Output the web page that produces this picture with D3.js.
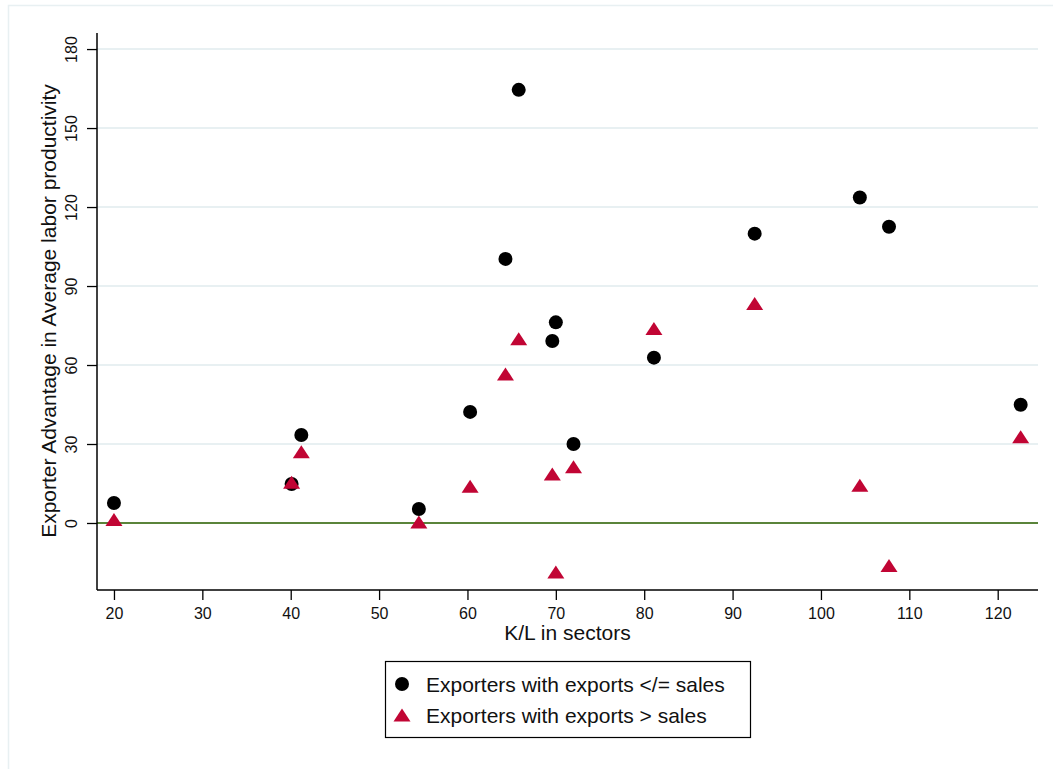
<!DOCTYPE html>
<html>
<head>
<meta charset="utf-8">
<script src="https://cdn.jsdelivr.net/npm/d3@7"></script>
<style>
  html, body { margin: 0; padding: 0; background: #fff; }
  svg { display: block; font-family: "Liberation Sans", Arial, sans-serif; }
</style>
</head>
<body>
<svg id="chart" width="1053" height="769"></svg>
<script>
// ---- data ----
const klCircle = [20.0, 40.1, 41.2, 54.5, 60.3, 64.3, 65.8, 70.0, 69.6, 72.0, 81.1, 92.5, 104.4, 107.7, 122.6];
const advCircle = [7.6, 14.8, 33.4, 5.3, 42.2, 100.3, 164.5, 76.2, 69.1, 30.0, 62.8, 109.9, 123.6, 112.5, 44.9];
const klTriangle = [20.0, 40.1, 41.2, 54.5, 60.3, 64.3, 65.8, 69.6, 72.0, 70.0, 81.1, 92.5, 104.4, 107.7, 122.6];
const advTriangle = [1.3, 15.5, 27.1, 0.4, 14.0, 56.6, 70.0, 18.6, 21.4, -18.6, 73.9, 83.4, 14.3, -16.1, 32.8];
const xTicks = [20, 30, 40, 50, 60, 70, 80, 90, 100, 110, 120];
const yTicks = [0, 30, 60, 90, 120, 150, 180];
const seriesLabels = ["Exporters with exports </= sales", "Exporters with exports > sales"];
const xTitle = "K/L in sectors";
const yTitle = "Exporter Advantage in Average labor productivity";

const svg = d3.select("#chart");
const W = 1053, H = 769;
const gridColor = "#e8f0f2";
const red = "#c10534";
const FONT = "Liberation Sans, Arial, sans-serif";

// outer frame
svg.append("rect").attr("x", 8.5).attr("y", 5.5).attr("width", W + 10).attr("height", H + 10)
  .attr("fill", "none").attr("stroke", gridColor).attr("stroke-width", 1.5);

const plot = { left: 97, right: 1038, top: 33, bottom: 590 };
const x = d3.scaleLinear().domain([18.08, 124.56]).range([plot.left, plot.right]);
const y = d3.scaleLinear().domain([-25.45, 186.1]).range([plot.bottom, plot.top]);

// gridlines
svg.append("g").selectAll("line").data(yTicks.filter(d => d !== 0)).join("line")
  .attr("x1", plot.left).attr("x2", plot.right)
  .attr("y1", d => y(d)).attr("y2", d => y(d))
  .attr("stroke", gridColor).attr("stroke-width", 2);

// zero line
svg.append("line").attr("x1", plot.left).attr("x2", plot.right)
  .attr("y1", y(0)).attr("y2", y(0))
  .attr("stroke", "#5a843a").attr("stroke-width", 2.2);

// axes
const xAxis = d3.axisBottom(x).tickValues(xTicks).tickSize(10).tickPadding(8).tickFormat(d3.format("d"));
const gx = svg.append("g").attr("transform", `translate(0,${plot.bottom})`).call(xAxis);
gx.attr("font-size", 16).attr("font-family", FONT);
gx.select(".domain").attr("d", `M${plot.left},0H${plot.right}`).attr("stroke", "#000").attr("stroke-width", 1.5);
gx.selectAll(".tick line").attr("stroke", "#000").attr("stroke-width", 1.3);
gx.selectAll(".tick text").attr("font-size", 16).attr("fill", "#111");

const yAxis = d3.axisLeft(y).tickValues(yTicks).tickSize(10).tickPadding(4).tickFormat(d3.format("d"));
const gy = svg.append("g").attr("transform", `translate(${plot.left},0)`).call(yAxis);
gy.attr("font-size", 16).attr("font-family", FONT);
gy.select(".domain").attr("d", `M0,${plot.top}V${plot.bottom}`).attr("stroke", "#000").attr("stroke-width", 1.5);
gy.selectAll(".tick line").attr("stroke", "#000").attr("stroke-width", 1.3);
gy.selectAll(".tick text")
  .attr("font-size", 16).attr("fill", "#111")
  .attr("text-anchor", "middle")
  .attr("x", 0).attr("y", 0).attr("dy", "0.35em")
  .attr("transform", "translate(-25.5,0) rotate(-90)");

// axis titles
svg.append("text").attr("x", 567.5).attr("y", 640)
  .attr("text-anchor", "middle").attr("font-size", 21).attr("fill", "#111").text(xTitle);
svg.append("text").attr("transform", `translate(55.5,${(80 + 542) / 2}) rotate(-90)`)
  .attr("text-anchor", "middle").attr("font-size", 21).attr("fill", "#111").text(yTitle);

// markers
const triPath = (w, h) => `M0,${-h/2}L${w/2},${h/2}L${-w/2},${h/2}Z`;
const circles = klCircle.map((k, i) => ({ x: k, y: advCircle[i] }));
const tris = klTriangle.map((k, i) => ({ x: k, y: advTriangle[i] }));

svg.append("g").selectAll("circle").data(circles).join("circle")
  .attr("cx", d => x(d.x)).attr("cy", d => y(d.y)).attr("r", 7).attr("fill", "#000");
svg.append("g").selectAll("path").data(tris).join("path")
  .attr("transform", d => `translate(${x(d.x)},${y(d.y)})`)
  .attr("d", triPath(17, 13)).attr("fill", red);

// legend
const lg = svg.append("g");
lg.append("rect").attr("x", 385.5).attr("y", 661.5).attr("width", 365).attr("height", 76)
  .attr("fill", "#fff").attr("stroke", "#000").attr("stroke-width", 1.2);
lg.append("circle").attr("cx", 402).attr("cy", 684).attr("r", 7).attr("fill", "#000");
lg.append("path").attr("transform", "translate(402,715)").attr("d", triPath(17, 13)).attr("fill", red);
lg.selectAll("text").data(seriesLabels).join("text")
  .attr("x", 426).attr("y", (d, i) => 684.5 + i * 31).attr("dy", "0.35em")
  .attr("font-size", 21).attr("fill", "#111").text(d => d);
</script>
</body>
</html>
